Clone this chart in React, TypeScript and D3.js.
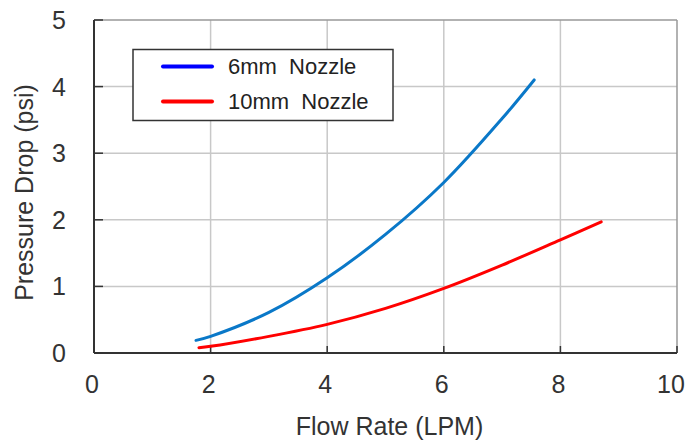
import React from "react";
import * as d3 from "d3";

const xTicks = [0, 2, 4, 6, 8, 10];
const yTicks = [0, 1, 2, 3, 4, 5];

const flow6mm = [1.75, 2, 3, 4, 5, 6, 7, 7.55];
const drop6mm = [0.19, 0.25, 0.61, 1.13, 1.78, 2.56, 3.52, 4.1];

const flow10mm = [1.8, 2, 3, 4, 5, 6, 7, 8, 8.7];
const drop10mm = [0.08, 0.1, 0.25, 0.43, 0.67, 0.97, 1.32, 1.7, 1.97];

const seriesNames = ["6mm  Nozzle", "10mm  Nozzle"];

const W = 687;
const H = 448;
const L = 94, R = 677, T = 20, B = 353;
const FONT = "'Liberation Sans', Arial, sans-serif";

export default function App() {
  const x = d3.scaleLinear().domain([0, 10]).range([L, R]);
  const y = d3.scaleLinear().domain([0, 5]).range([B, T]);
  const line = d3
    .line<[number, number]>()
    .x((d) => x(d[0]))
    .y((d) => y(d[1]))
    .curve(d3.curveCatmullRom.alpha(0.5));

  const s6 = flow6mm.map((f, i) => [f, drop6mm[i]] as [number, number]);
  const s10 = flow10mm.map((f, i) => [f, drop10mm[i]] as [number, number]);

  return (
    <svg
      width={W}
      height={H}
      style={{ position: "absolute", left: 0, top: 0, background: "#fff" }}
      fontFamily={FONT}
    >
      <rect x={0} y={0} width={W} height={H} fill="#fff" />
      {/* grid */}
      {xTicks.slice(1, -1).map((t) => (
        <line key={"gx" + t} x1={x(t)} x2={x(t)} y1={T} y2={B} stroke="#c8c8c8" strokeWidth={1.5} />
      ))}
      {yTicks.slice(1, -1).map((t) => (
        <line key={"gy" + t} x1={L} x2={R} y1={y(t)} y2={y(t)} stroke="#c8c8c8" strokeWidth={1.5} />
      ))}
      {/* top & right border */}
      <line x1={L} x2={R} y1={T} y2={T} stroke="#999" strokeWidth={1.5} />
      <line x1={R} x2={R} y1={T} y2={B} stroke="#999" strokeWidth={1.5} />
      {/* axes */}
      <line x1={L} x2={L} y1={T} y2={B} stroke="#333" strokeWidth={2} />
      <line x1={L} x2={R} y1={B} y2={B} stroke="#333" strokeWidth={2} />
      {yTicks.map((t) => (
        <g key={"ty" + t}>
          <line x1={L} x2={L + 9} y1={y(t)} y2={y(t)} stroke="#333" strokeWidth={1.5} />
          <text x={L - 28} y={y(t)} dy="0.36em" textAnchor="end" fontSize={25} fill="#333">
            {t}
          </text>
        </g>
      ))}
      {xTicks.map((t) => (
        <g key={"tx" + t}>
          <line x1={x(t)} x2={x(t)} y1={B} y2={B - 7} stroke="#333" strokeWidth={1.5} />
          <text x={x(t) - (t === 10 ? 6 : 2)} y={393} textAnchor="middle" fontSize={25} fill="#333">
            {t}
          </text>
        </g>
      ))}
      {/* axis titles */}
      <text x={(L + R) / 2 + 4} y={435} textAnchor="middle" fontSize={25} fill="#333">
        Flow Rate (LPM)
      </text>
      <text
        transform={`translate(33, ${(T + B) / 2 + 6}) rotate(-90)`}
        textAnchor="middle"
        fontSize={25}
        fill="#333"
      >
        Pressure Drop (psi)
      </text>
      {/* series */}
      <path d={line(s6) || ""} fill="none" stroke="#0a78c8" strokeWidth={3} strokeLinecap="round" />
      <path d={line(s10) || ""} fill="none" stroke="#ff0000" strokeWidth={3} strokeLinecap="round" />
      {/* legend */}
      <rect x={133} y={49.5} width={260} height={71} fill="#fff" stroke="#333" strokeWidth={1.5} />
      <line x1={163} x2={212} y1={66.5} y2={66.5} stroke="#0000ff" strokeWidth={4} strokeLinecap="round" />
      <line x1={163} x2={212} y1={101.5} y2={101.5} stroke="#ff0000" strokeWidth={4} strokeLinecap="round" />
      <text x={228} y={74} fontSize={22} fill="#222" style={{ whiteSpace: "pre" }}>
        {seriesNames[0]}
      </text>
      <text x={228} y={109} fontSize={22} fill="#222" style={{ whiteSpace: "pre" }}>
        {seriesNames[1]}
      </text>
    </svg>
  );
}
